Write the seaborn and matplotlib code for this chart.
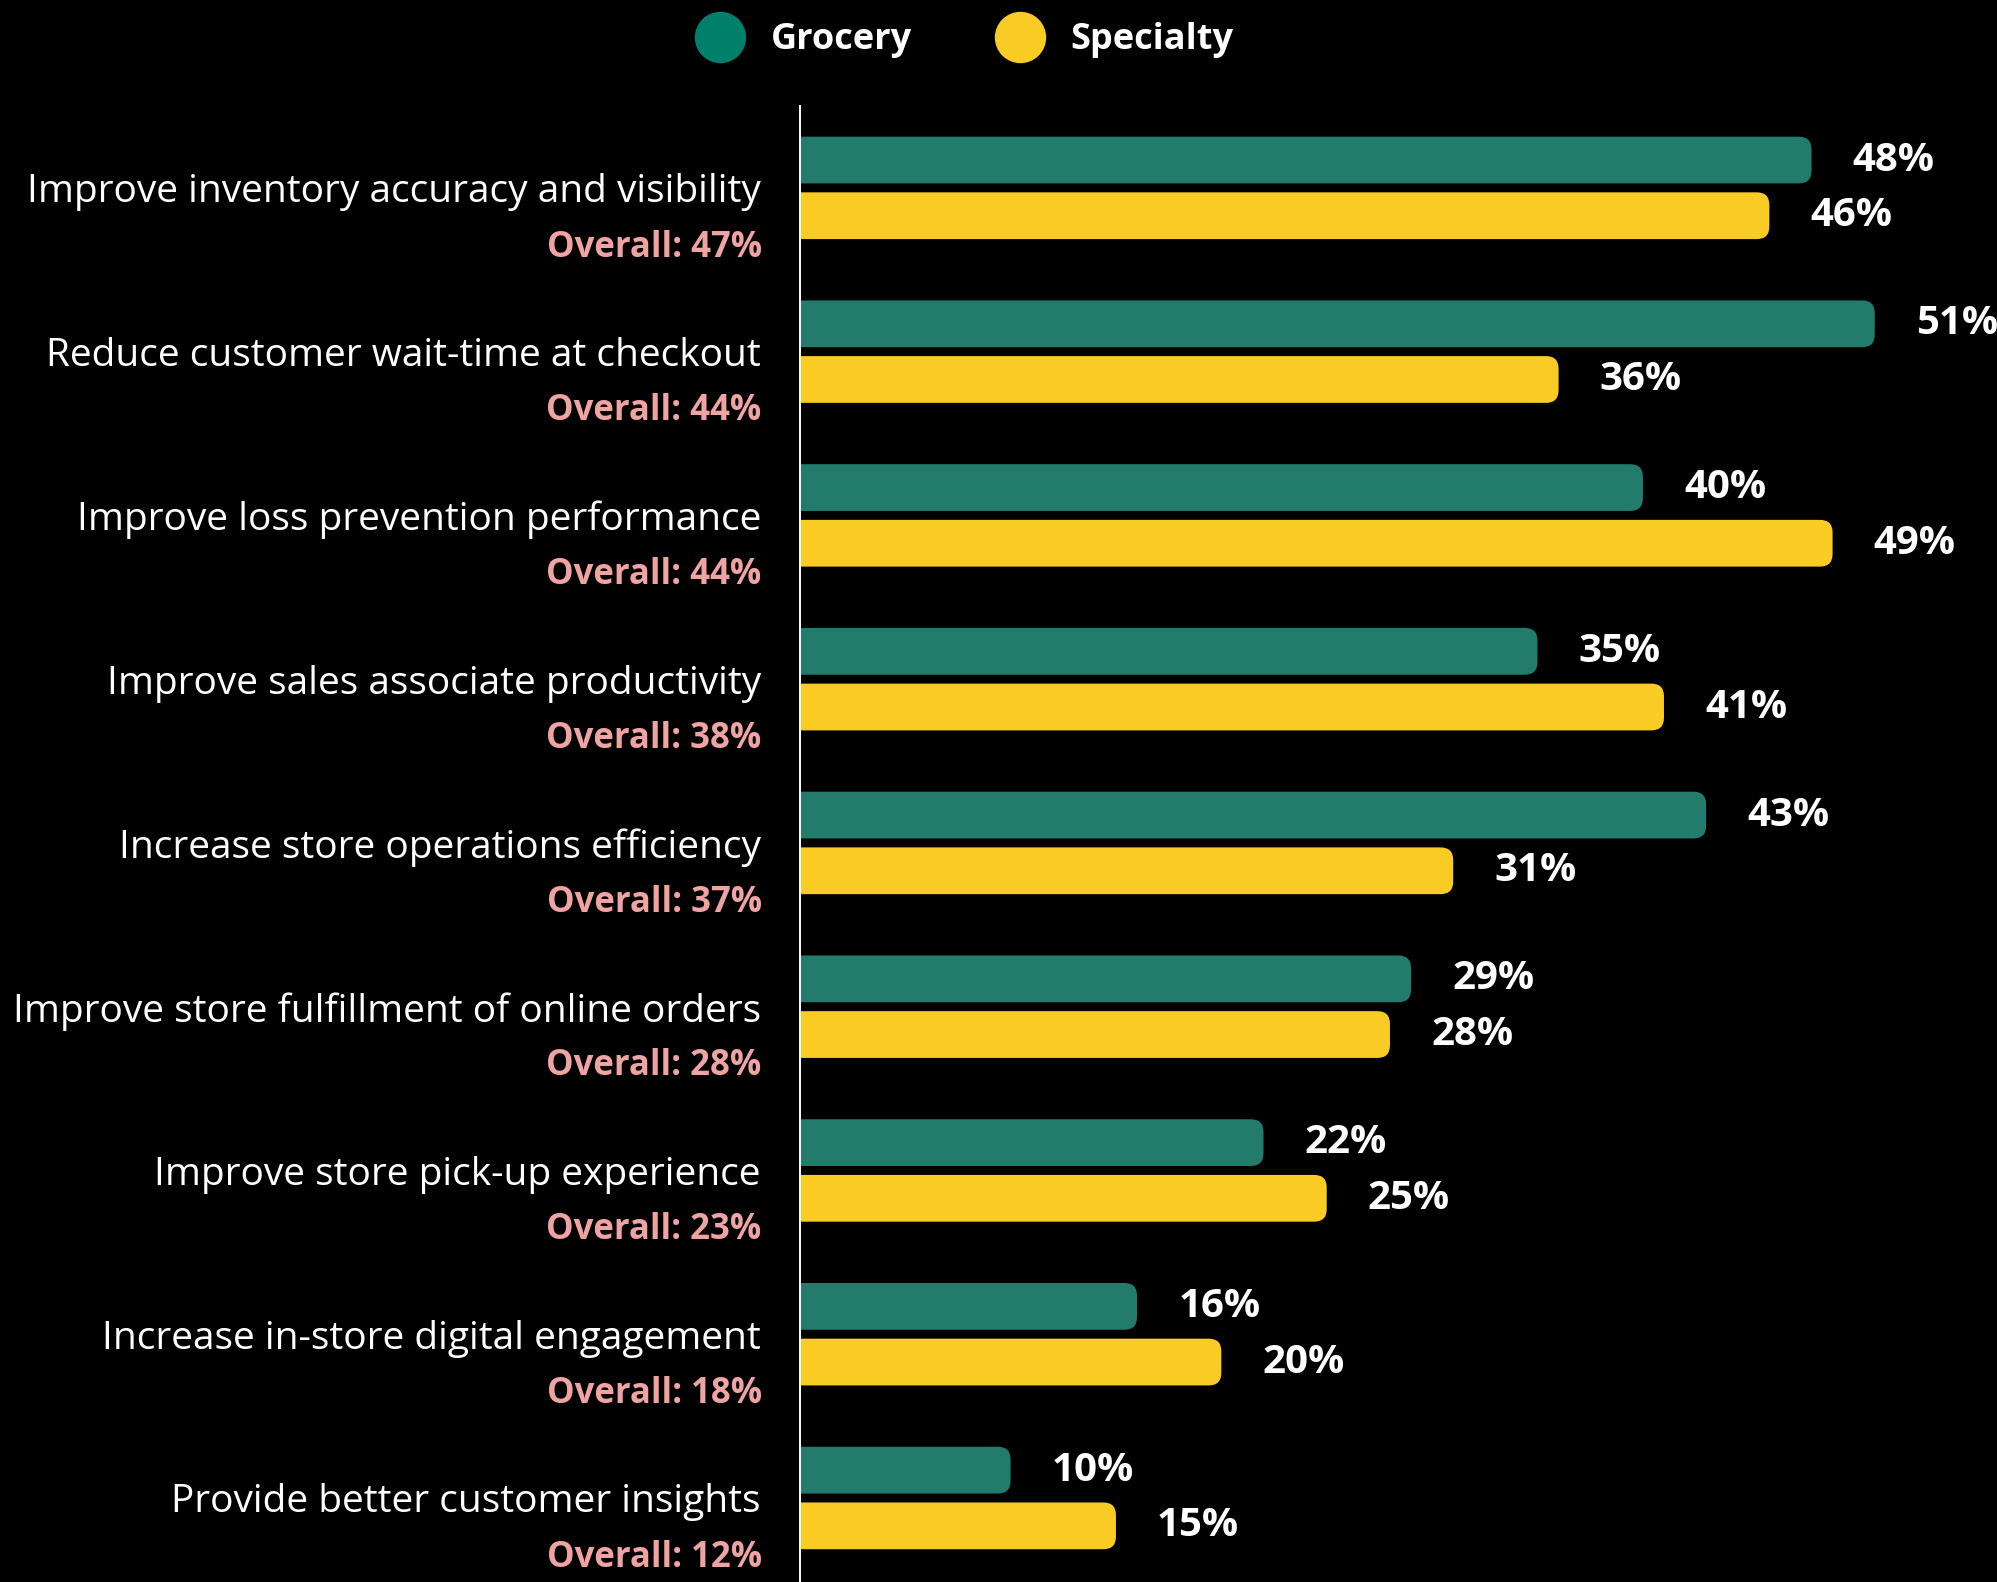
import pandas as pd
import matplotlib.pyplot as plt
import seaborn as sns
from matplotlib.patches import FancyBboxPatch
from matplotlib.lines import Line2D

###############################################################################
# Data
###############################################################################
categories = [
    "Improve inventory accuracy and visibility",
    "Reduce customer wait-time at checkout",
    "Improve loss prevention performance",
    "Improve sales associate productivity",
    "Increase store operations efficiency",
    "Improve store fulfillment of online orders",
    "Improve store pick-up experience",
    "Increase in-store digital engagement",
    "Provide better customer insights",
]
grocery = [48, 51, 40, 35, 43, 29, 22, 16, 10]
specialty = [46, 36, 49, 41, 31, 28, 25, 20, 15]
overall = [47, 44, 44, 38, 37, 28, 23, 18, 12]
series = ["Grocery", "Specialty"]

GREEN = "#237B6B"
GREEN_DOT = "#00806A"
YELLOW = "#F9CB25"
PINK = "#F0A3A3"

df = pd.DataFrame({
    "Category": categories * 2,
    "Value": grocery + specialty,
    "Segment": ["Grocery"] * len(categories) + ["Specialty"] * len(categories),
})

###############################################################################
# Plot
###############################################################################
sns.set_style("dark")
plt.rcParams["font.family"] = ["Open Sans", "DejaVu Sans"]

fig = plt.figure(figsize=(19.97, 15.82), dpi=100, facecolor="black")
ax = fig.add_axes([0.4005, 0.0, 0.5995, 0.933])
ax.set_facecolor("black")

sns.barplot(data=df, x="Value", y="Category", hue="Segment", orient="h",
            palette=[GREEN, YELLOW], width=0.68, gap=0.16, ax=ax,
            legend=False, errorbar=None, saturation=1)

# rounded right ends
r = 0.6
asp = 0.128
for cont, col in zip(ax.containers, [GREEN, YELLOW]):
    for bar in cont:
        x, y = bar.get_x(), bar.get_y()
        w, h = bar.get_width(), bar.get_height()
        bar.set_visible(False)
        ax.add_patch(FancyBboxPatch((x - r, y), w + r, h,
                                    boxstyle=f"round,pad=0,rounding_size={r}",
                                    mutation_aspect=asp, facecolor=col,
                                    edgecolor="none"))

# value labels
for cont, vals in zip(ax.containers, [grocery, specialty]):
    for bar, v in zip(cont, vals):
        yc = bar.get_y() + bar.get_height() / 2
        ax.text(v + 1.95, yc, f"{v}%", color="white", fontsize=29,
                fontweight="bold", va="center", ha="left")

ax.set_xlim(0, 56.8)
ax.set_ylim(8.513, -0.50)
ax.set_xticks([])
ax.set_xlabel("")
ax.set_ylabel("")
ax.set_yticks(range(len(categories)))
ax.set_yticklabels(categories, color="white", fontsize=28)
ax.tick_params(axis="y", length=0, pad=28)
ax.grid(False)

for s in ["top", "right", "bottom"]:
    ax.spines[s].set_visible(False)
ax.spines["left"].set_color("white")
ax.spines["left"].set_linewidth(1.4)

# overall labels
tr = ax.get_yaxis_transform()
for i, o in enumerate(overall):
    ax.text(-0.0318, i + 0.365, f"Overall: {o}%", transform=tr, color=PINK,
            fontsize=25, fontweight="bold", ha="right", va="center")

handles = [Line2D([], [], marker="o", linestyle="none", markersize=37,
                  markerfacecolor=c, markeredgecolor="none")
           for c in [GREEN_DOT, YELLOW]]
leg = fig.legend(handles, series, loc="center", bbox_to_anchor=(0.48, 0.9745),
                 ncol=2, frameon=False, handletextpad=0.4, columnspacing=2.0,
                 prop={"size": 26, "weight": "bold"})
for t in leg.get_texts():
    t.set_color("white")

fig.savefig("out.png", dpi=100, facecolor="black")
